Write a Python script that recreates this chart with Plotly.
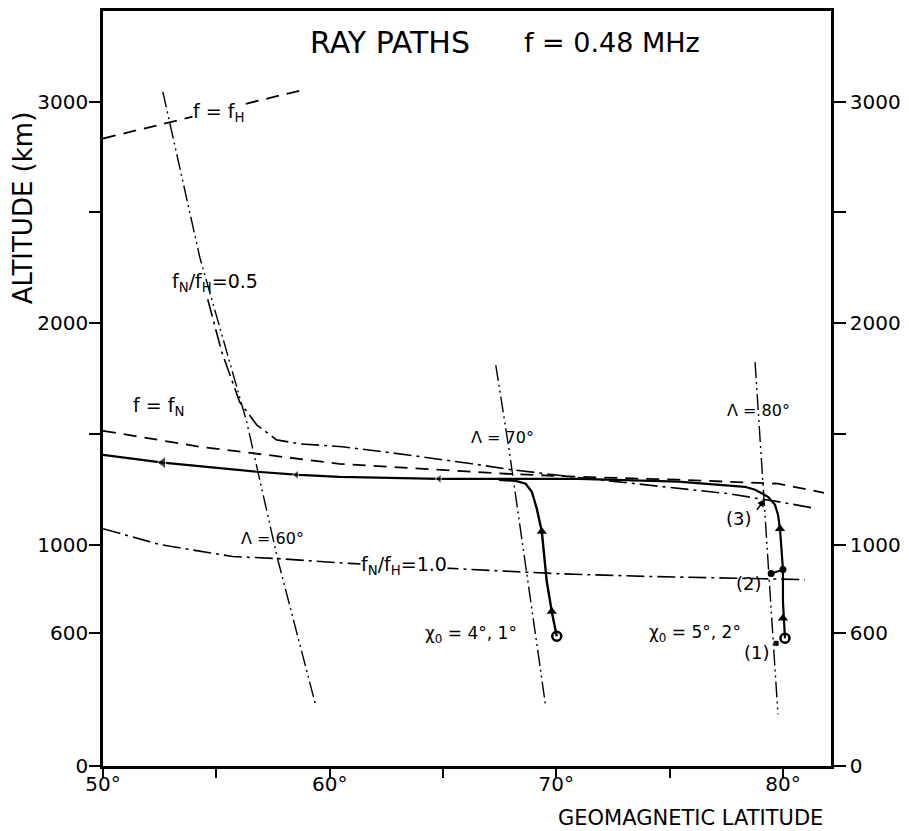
import plotly.graph_objects as go

# ---------------- data (geomagnetic latitude in degrees, altitude in km) ----------------
fH_lat = [50.0, 58.67]
fH_alt = [2834, 3050]

fN_lat = [50.0, 54.27, 60.43, 64.83, 67.77, 70.99, 75.38, 79.78, 81.81]
fN_alt = [1514, 1442, 1365, 1338, 1320, 1306, 1293, 1275, 1234]

r05_lat = [54.62, 55.24, 56.03, 56.78, 57.66, 58.67, 60.56, 63.37, 66.28, 68.04, 70.68, 74.64, 77.58, 79.78, 81.24]
r05_alt = [2108, 1870, 1644, 1541, 1473, 1455, 1442, 1406, 1365, 1338, 1306, 1261, 1230, 1194, 1167]

r10_lat = [50.0, 52.51, 55.72, 57.66, 60.87, 65.27, 69.97, 74.06, 77.72, 80.97]
r10_alt = [1072, 1000, 946, 937, 915, 892, 869, 856, 847, 842]

L60_lat = [52.64, 54.27, 56.34, 57.70, 59.37]
L60_alt = [3045, 2298, 1554, 937, 279]
L70_lat = [67.33, 67.91, 69.23, 69.53]
L70_alt = [1811, 1433, 487, 270]
L80_lat = [78.77, 79.30, 79.78]
L80_alt = [1824, 1000, 234]

ray80_lat = [80.09, 80.00, 80.00, 79.92, 79.87, 79.78, 79.65, 79.34, 78.77, 78.33, 75.38, 70.99,
             68.04, 64.83, 60.43, 58.67, 56.78, 52.64, 50.0]
ray80_alt = [577, 743, 887, 1014, 1072, 1135, 1180, 1216, 1248, 1261, 1284, 1297,
             1297, 1297, 1306, 1315, 1329, 1370, 1405]

ray70_lat = [70.02, 69.80, 69.58, 69.36, 69.14, 68.92, 68.65, 68.21, 67.47]
ray70_alt = [586, 698, 833, 1059, 1162, 1239, 1275, 1288, 1293]

up_arrow_lat = [69.80, 69.36, 80.00, 79.87]
up_arrow_alt = [698, 1059, 667, 1072]
left_arrow_lat = [64.83, 58.53, 52.64]
left_arrow_alt = [1297, 1315, 1370]

start_lat = [70.02, 80.09]
start_alt = [586, 577]
pt2_lat = [79.48, 80.00]
pt2_alt = [869, 887]
pt1_lat = [79.70]
pt1_alt = [554]

x_ticks = [50, 55, 60, 65, 70, 75, 80]
x_ticktext = ["50°", "", "60°", "", "70°", "", "80°"]
y_ticks = [0, 600, 1000, 1500, 2000, 2500, 3000]
y_ticktext = ["0", "600", "1000", "", "2000", "", "3000"]

FONT = "DejaVu Sans"
BLACK = "black"
DASH = "13px,8px"
DASHDOT = "18px,5px,3px,5px"
DASHDOTDOT = "16px,4px,2px,4px,2px,4px"

fig = go.Figure()

def line(x, y, dash, width=1.6, yaxis="y"):
    fig.add_trace(go.Scatter(x=x, y=y, mode="lines", yaxis=yaxis,
                             line=dict(color=BLACK, width=width, dash=dash),
                             hoverinfo="skip", showlegend=False))

line(fH_lat, fH_alt, DASH, 1.8)
line(fN_lat, fN_alt, DASH, 1.8)
line(r05_lat, r05_alt, DASHDOT, 1.6)
line(r10_lat, r10_alt, DASHDOT, 1.6)
line(L60_lat, L60_alt, DASHDOTDOT, 1.4)
line(L70_lat, L70_alt, DASHDOTDOT, 1.4)
line(L80_lat, L80_alt, DASHDOTDOT, 1.4, yaxis="y2")
line(ray80_lat, ray80_alt, "solid", 2.2)
line(ray70_lat, ray70_alt, "solid", 2.4)
line(pt2_lat, pt2_alt, "solid", 1.8)

fig.add_trace(go.Scatter(x=up_arrow_lat, y=up_arrow_alt, mode="markers",
                         marker=dict(symbol="triangle-up", size=9, color=BLACK),
                         hoverinfo="skip", showlegend=False))
fig.add_trace(go.Scatter(x=left_arrow_lat, y=left_arrow_alt, mode="markers",
                         marker=dict(symbol="triangle-left", size=[8, 8, 11], color=BLACK),
                         hoverinfo="skip", showlegend=False))
fig.add_trace(go.Scatter(x=start_lat, y=start_alt, mode="markers",
                         marker=dict(symbol="circle-open", size=9, color=BLACK, line=dict(width=2.5)),
                         hoverinfo="skip", showlegend=False))
fig.add_trace(go.Scatter(x=pt2_lat, y=pt2_alt, mode="markers",
                         marker=dict(symbol="circle", size=7, color=BLACK),
                         hoverinfo="skip", showlegend=False))
fig.add_trace(go.Scatter(x=pt1_lat, y=pt1_alt, mode="markers",
                         marker=dict(symbol="square", size=5, color=BLACK),
                         hoverinfo="skip", showlegend=False))

def label(x, y, text, size=18, bg=None, ref="x", angle=0, **kw):
    d = dict(x=x, y=y, xref="x" if ref == "x" else "paper", yref="y" if ref == "x" else "paper",
             text=text, showarrow=False, xanchor="center", yanchor="middle", textangle=angle,
             font=dict(family=FONT, size=size, color=BLACK), borderpad=0)
    if bg:
        d["bgcolor"] = bg
    d.update(kw)
    fig.add_annotation(**d)

label(55.10, 2951, "f = f<sub>H</sub>", 19, bg="white")
label(54.93, 2185, "f<sub>N</sub>/f<sub>H</sub>=0.5", 19)
label(52.46, 1622, "f = f<sub>N</sub>", 19)
label(63.29, 905, "f<sub>N</sub>/f<sub>H</sub>=1.0", 19, bg="white")
label(57.48, 1027, "Λ = 60°", 16)
label(67.64, 1482, "Λ = 70°", 16)
label(78.90, 1604, "Λ = 80°", 16)
label(66.23, 595, "χ<sub>0</sub> = 4°, 1°", 17)
label(76.13, 599, "χ<sub>0</sub> = 5°, 2°", 17)
label(78.85, 512, "(1)", 18)
label(78.50, 824, "(2)", 18)
label(78.07, 1117, "(3)", 18)

# arrow for (3)
fig.add_annotation(x=79.2, y=1205, ax=78.8, ay=1150, xref="x", yref="y", axref="x", ayref="y",
                   text="", showarrow=True, arrowhead=2, arrowsize=1, arrowwidth=1.5, arrowcolor=BLACK)

# titles
label(62.65, 3270, "RAY PATHS", 30)
label(72.44, 3270, "f = 0.48 MHz", 27)
label(-0.1096, 0.739, "ALTITUDE (km)", 26, ref="paper", angle=-90)
label(0.807, -0.0686, "GEOMAGNETIC LATITUDE", 21, ref="paper")

axis_font = dict(family=FONT, size=20, color=BLACK)
fig.update_layout(
    width=909, height=831,
    margin=dict(l=103, r=76, t=8, b=65),
    paper_bgcolor="white", plot_bgcolor="white",
    showlegend=False,
    xaxis=dict(range=[50, 82.12], tickvals=x_ticks, ticktext=x_ticktext, ticks="outside",
               ticklen=9, tickwidth=2, tickcolor=BLACK, showline=True, linewidth=2.5,
               linecolor=BLACK, mirror=True, showgrid=False, zeroline=False, tickfont=axis_font,
               ticklabelstandoff=-11),
    yaxis=dict(range=[0, 3410], tickvals=y_ticks, ticktext=y_ticktext, ticks="outside",
               ticklen=11, tickwidth=2, tickcolor=BLACK, showline=True, linewidth=2.5,
               linecolor=BLACK, showgrid=False, zeroline=False, tickfont=axis_font,
               ticklabelstandoff=-3),
    yaxis2=dict(range=[0, 3410], overlaying="y", side="right", tickvals=y_ticks, ticktext=y_ticktext,
                ticks="outside", ticklen=12, tickwidth=2, tickcolor=BLACK, showline=True,
                linewidth=2.5, linecolor=BLACK, showgrid=False, zeroline=False, tickfont=axis_font),
)

fig.write_html("out.html")
